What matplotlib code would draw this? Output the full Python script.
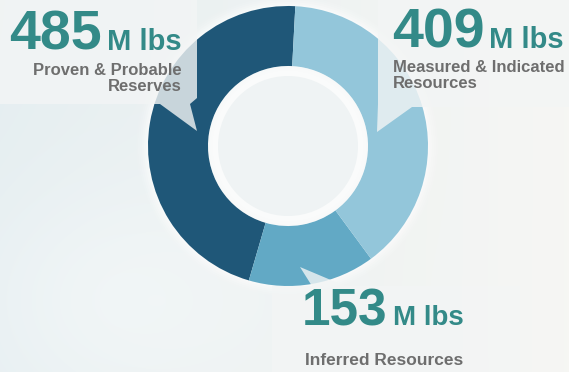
import numpy as np
import matplotlib.pyplot as plt
from matplotlib.patches import Polygon, Circle

# resource estimates, million lbs
categories = ['Proven & Probable\nReserves', 'Inferred Resources', 'Measured & Indicated\nResources']
values = [485, 153, 409]
colors = ['#1f5778', '#62a9c5', '#93c6da']

W, H = 569, 372
teal = '#338a88'
grey = '#6e6e6e'
plt.rcParams['font.family'] = ['Liberation Sans', 'DejaVu Sans']

fig = plt.figure(figsize=(W / 100, H / 100), dpi=100)
ax = fig.add_axes([0, 0, 1, 1])


def P(x, y):
    # pixel coords measured from the top-left corner
    return (x, H - y)


# soft background wash
yy, xx = np.mgrid[0:H, 0:W]
t = np.clip(xx / W, 0, 1)
left = np.array([0.90, 0.935, 0.945])
right = np.array([0.965, 0.965, 0.955])
bg = left[None, None, :] * (1 - t[..., None]) + right[None, None, :] * t[..., None]
glow = np.exp(-(((xx - 120) / 160) ** 2 + ((yy - 300) / 120) ** 2))
bg = bg + (1 - bg) * 0.35 * glow[..., None]
ax.imshow(bg, extent=[0, W, 0, H], origin='upper', zorder=0)

cx, cy = P(288, 146)
R, ring = 140, 60

# white halo round the ring
for i, a in enumerate(np.linspace(0.05, 0.25, 6)):
    ax.add_patch(Circle((cx, cy), R + 12 - 2 * i, color='white', alpha=a, lw=0, zorder=1))

ax.pie(values, colors=colors, startangle=87, counterclock=True, center=(cx, cy),
       radius=R, wedgeprops=dict(width=ring, linewidth=0), normalize=True)
for w in ax.patches[-len(values):]:
    w.set_zorder(2)

# pale centre with a soft rim
r_in = R - ring
for i, a in enumerate(np.linspace(0.25, 0.9, 7)):
    ax.add_patch(Circle((cx, cy), r_in - i * 1.5, color='#fbfcfc', alpha=a, lw=0, zorder=3))
ax.add_patch(Circle((cx, cy), r_in - 10, color='#eff3f4', lw=0, zorder=3))

# callout bubbles
bubbles = [
    [(-5, -5), (197, -5), (197, 98), (190, 104), (197, 131), (160, 104), (-5, 104)],
    [(378, -5), (575, -5), (575, 107), (412, 107), (377, 132), (378, 104)],
    [(272, 286), (312, 286), (300, 267), (345, 286), (520, 286), (520, 380), (272, 380)],
]
for pts in bubbles:
    ax.add_patch(Polygon([P(*p) for p in pts], closed=True, facecolor='#f3f5f5',
                         alpha=0.8, lw=0, joinstyle='round', zorder=4))

ax.set_xlim(0, W)
ax.set_ylim(0, H)
ax.set_aspect('auto')
ax.axis('off')


# labels: value + unit + category
def label(x, y, val, size, unit_size, name, name_xy, ha, name_size=12):
    t1 = ax.text(*P(x, y), f'{val}', fontsize=size, fontweight='bold', color=teal,
                 ha='left', va='baseline', zorder=5)
    fig.canvas.draw()
    bb = t1.get_window_extent().transformed(ax.transData.inverted())
    ax.text(bb.x1 + 5, H - y, 'M lbs', fontsize=unit_size, fontweight='bold',
            color=teal, ha='left', va='baseline', zorder=5)
    ax.text(*P(*name_xy), name, fontsize=name_size, fontweight='bold', color=grey,
            ha=ha, va='top', linespacing=1.1, multialignment=ha, zorder=5)


label(9, 50, values[0], 40, 21, categories[0], (182, 63), 'right')
label(392, 48, values[2], 40, 21, categories[2], (393, 60), 'left')
label(302, 325, values[1], 37, 20, categories[1], (384, 353), 'center', 12.5)

fig.savefig('out.png', dpi=100)
